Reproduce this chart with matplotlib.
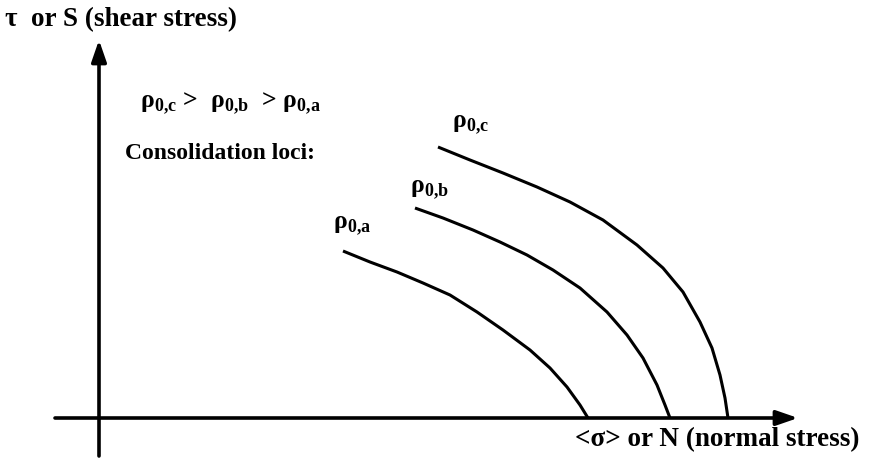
import matplotlib
matplotlib.use("Agg")
import matplotlib.pyplot as plt

# consolidation loci, normal stress vs shear stress (arbitrary units)
sigma_a = [2.44, 2.71, 2.98, 3.24, 3.51, 3.78, 4.04, 4.31, 4.51, 4.68, 4.81, 4.89]
tau_a = [1.67, 1.56, 1.46, 1.35, 1.23, 1.06, 0.88, 0.68, 0.50, 0.31, 0.13, 0.0]

sigma_b = [3.16, 3.44, 3.74, 4.01, 4.28, 4.54, 4.81, 5.08, 5.28, 5.44, 5.58, 5.66, 5.71]
tau_b = [2.10, 2.00, 1.88, 1.76, 1.63, 1.48, 1.30, 1.06, 0.83, 0.60, 0.33, 0.13, 0.0]

sigma_c = [3.39, 3.71, 4.04, 4.38, 4.71, 5.04, 5.38, 5.64, 5.84, 6.01, 6.13, 6.21, 6.26, 6.29]
tau_c = [2.71, 2.58, 2.45, 2.31, 2.16, 1.98, 1.73, 1.50, 1.26, 0.96, 0.70, 0.43, 0.20, 0.0]

labels = [r"ρ$_{\mathbf{0{,}a}}$", r"ρ$_{\mathbf{0{,}b}}$", r"ρ$_{\mathbf{0{,}c}}$"]

plt.rcParams["font.family"] = ["Liberation Serif", "DejaVu Serif"]
plt.rcParams["mathtext.fontset"] = "custom"
plt.rcParams["mathtext.bf"] = "Liberation Serif:bold"
plt.rcParams["mathtext.rm"] = "Liberation Serif"
plt.rcParams["font.weight"] = "bold"

fig = plt.figure(figsize=(8.69, 4.72), dpi=100)
ax = fig.add_axes([0, 0, 1, 1])
ax.set_xlim(-0.99, 7.70)
ax.set_ylim(-0.54, 4.18)
ax.axis("off")

# axes with arrow heads
arrow = dict(arrowstyle="-|>,head_length=1.3,head_width=0.45", color="black",
             lw=2.6, shrinkA=0, shrinkB=0)
ax.annotate("", xy=(6.99, 0), xytext=(-0.44, 0), arrowprops=arrow)
ax.annotate("", xy=(0, 3.78), xytext=(0, -0.38), arrowprops=arrow)

for s, t in [(sigma_a, tau_a), (sigma_b, tau_b), (sigma_c, tau_c)]:
    ax.plot(s, t, color="black", lw=2.2, solid_joinstyle="round",
            solid_capstyle="butt")

ax.text(-0.94, 3.98, "τ  or S (shear stress)", fontsize=19.5, ha="left", va="center")
ax.text(4.76, -0.22, "<σ> or N (normal stress)", fontsize=19.5, ha="left", va="center")
ax.text(0.41, 3.14, labels[2] + " >  " + labels[1] + "  > " + labels[0],
        fontsize=18.5, ha="left", va="center")
ax.text(0.26, 2.59, "Consolidation loci:", fontsize=17, ha="left", va="baseline")

ax.text(2.34, 1.92, labels[0], fontsize=18.5, ha="left", va="center")
ax.text(3.11, 2.28, labels[1], fontsize=18.5, ha="left", va="center")
ax.text(3.53, 2.93, labels[2], fontsize=18.5, ha="left", va="center")

fig.savefig("out.png", dpi=100)
